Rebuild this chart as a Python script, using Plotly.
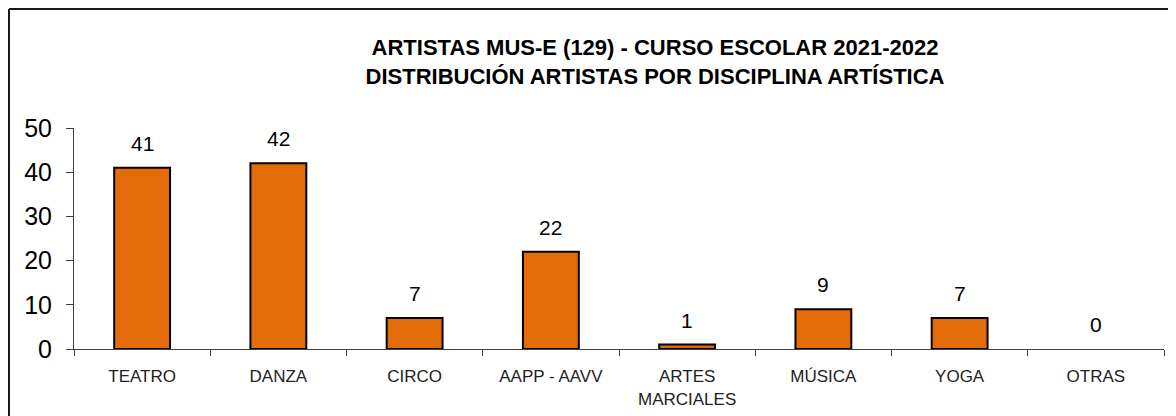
import plotly.graph_objects as go

categories = ["TEATRO", "DANZA", "CIRCO", "AAPP - AAVV", "ARTES<br>MARCIALES", "MÚSICA", "YOGA", "OTRAS"]
values = [41, 42, 7, 22, 1, 9, 7, 0]
y_ticks = [0, 10, 20, 30, 40, 50]
title_lines = ["ARTISTAS MUS-E (129) - CURSO ESCOLAR 2021-2022",
               "DISTRIBUCIÓN ARTISTAS POR DISCIPLINA ARTÍSTICA"]

FONT = "Liberation Sans Narrow, Arial Narrow, Liberation Sans, Arial, sans-serif"

# page offset of 8px (body margin) -> figure drawn at 1168x408
W, H = 1168, 408
OFF = 8
L, R, T, B = 74 - OFF, 12, 128 - OFF, 67
pw, ph = W - L - R, H - T - B
bx = (9 - OFF - L) / pw
by = (H - B - (9 - OFF)) / ph

fig = go.Figure()
fig.add_trace(go.Bar(
    x=categories, y=values, width=0.41,
    marker=dict(color="#E36C09",
                line=dict(color="#000000", width=[2 if v > 0 else 0 for v in values])),
    hoverinfo="x+y",
))

for c, v in zip(categories, values):
    fig.add_annotation(x=c, y=v, text=str(v), showarrow=False,
                       yanchor="bottom", yshift=11,
                       font=dict(family=FONT, size=21, color="#000000"))

fig.add_shape(type="line", xref="paper", yref="paper", x0=bx, x1=bx, y0=-1, y1=by,
              line=dict(color="#1a1a1a", width=2))
fig.add_shape(type="line", xref="paper", yref="paper", x0=bx, x1=1.2, y0=by, y1=by,
              line=dict(color="#1a1a1a", width=2))

fig.update_layout(
    width=W, height=H,
    margin=dict(l=L, r=R, t=T, b=B),
    paper_bgcolor="white", plot_bgcolor="white",
    showlegend=False,
    title=dict(text="<b>" + "<br>".join(title_lines) + "</b>",
               x=(655 - OFF) / W, xanchor="center", y=1 - (55 - OFF) / H, yanchor="middle",
               font=dict(family=FONT, size=22, color="#000000")),
)
fig.update_xaxes(
    type="category", range=[-0.5, 7.5], automargin=False,
    showline=True, linecolor="#404040", linewidth=1,
    ticks="outside", ticklen=6, tickcolor="#404040", tickson="boundaries",
    tickfont=dict(family=FONT, size=17, color="#222222"),
    ticklabelstandoff=12,
    showgrid=False,
)
fig.update_yaxes(
    range=[0, 50], tickvals=y_ticks, automargin=False,
    showline=True, linecolor="#404040", linewidth=1,
    ticks="outside", ticklen=7, tickcolor="#404040",
    tickfont=dict(family="Liberation Sans, Arial, sans-serif", size=25, color="#000000"),
    ticklabelstandoff=9,
    showgrid=False, zeroline=False,
)

fig.write_html("out.html")
